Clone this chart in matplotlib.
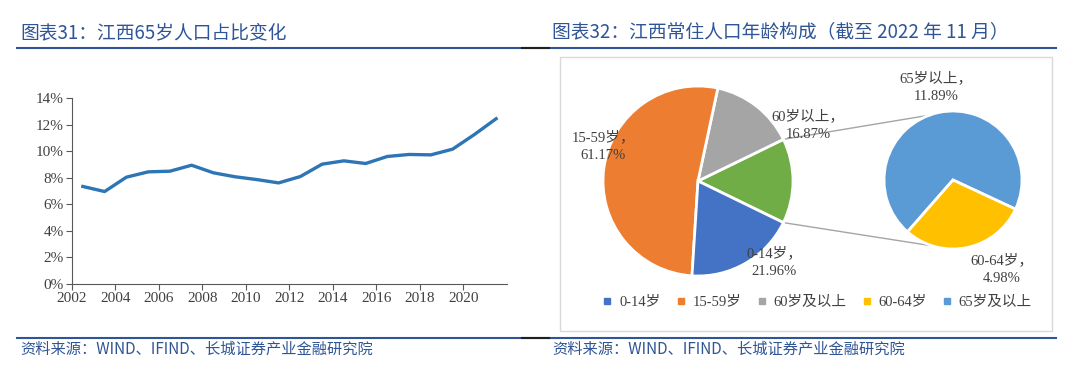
import numpy as np
import matplotlib
matplotlib.use("Agg")
import matplotlib.pyplot as plt
from matplotlib.lines import Line2D
from matplotlib.patches import Rectangle

# ---- data ----
years = list(range(2002, 2022))
share_65 = [7.34, 6.96, 8.04, 8.44, 8.49, 8.94, 8.37, 8.07, 7.86, 7.61,
            8.09, 9.02, 9.27, 9.07, 9.60, 9.75, 9.72, 10.15, 11.25, 12.44]
x_ticks = list(range(2002, 2022, 2))
y_ticks = [0, 2, 4, 6, 8, 10, 12, 14]

age_groups = ["0-14岁", "15-59岁", "60岁及以上", "60-64岁", "65岁及以上"]
age_share = [21.96, 61.17, 16.87, 4.98, 11.89]
age_colors = ["#4472C4", "#ED7D31", "#A5A5A5", "#FFC000", "#5B9BD5"]
other_color = "#70AD47"

BLUE = "#2F5597"
TXT = "#404040"
SERIF = ["Liberation Serif", "Noto Sans CJK SC"]
CJK = ["Noto Sans CJK SC", "DejaVu Sans"]

W, H = 1080, 384
fig = plt.figure(figsize=(W / 100, H / 100), dpi=100, facecolor="white")

# ---- left: line chart ----
ax = fig.add_axes([72 / W, 1 - 284 / H, (507 - 72) / W, (284 - 98) / H])
ax.plot([y + 0.5 for y in years], share_65, color="#2E75B6", lw=2.4,
        solid_joinstyle="round")
ax.set_xlim(2002, 2022)
ax.set_ylim(0, 14)
ax.set_xticks(x_ticks)
ax.set_xticklabels([str(t) for t in x_ticks], family=SERIF, fontsize=11, color=TXT)
ax.set_yticks(y_ticks)
ax.set_yticklabels([f"{t}%" for t in y_ticks], family=SERIF, fontsize=11, color=TXT)
for s in ("top", "right"):
    ax.spines[s].set_visible(False)
for s in ("left", "bottom"):
    ax.spines[s].set_color("#595959")
    ax.spines[s].set_linewidth(0.8)
ax.tick_params(axis="x", length=4, color="#595959", pad=2)
ax.tick_params(axis="y", length=4, color="#595959", pad=2)

# ---- overlay in pixel coordinates ----
ov = fig.add_axes([0, 0, 1, 1], zorder=-1)
ov.set_xlim(0, W)
ov.set_ylim(0, H)
ov.axis("off")

def py(y):
    return H - y

# headers and rules
ov.plot([17, 1056], [py(48), py(48)], color=BLUE, lw=1.5)
ov.plot([522, 549], [py(48), py(48)], color="#202020", lw=1.5)
ov.plot([17, 1056], [py(338), py(338)], color=BLUE, lw=1.5)
ov.plot([522, 549], [py(338), py(338)], color="#202020", lw=1.5)
ov.text(20, py(33), "图表31：江西65岁人口占比变化", family=CJK, fontsize=13.5,
        color=BLUE, va="center", ha="left")
ov.text(552, py(33), "图表32：江西常住人口年龄构成（截至 2022 年 11 月）", family=CJK,
        fontsize=13.5, color=BLUE, va="center", ha="left")
src = "资料来源：WIND、IFIND、长城证券产业金融研究院"
ov.text(20, py(349), src, family=CJK, fontsize=11, color=BLUE, va="center", ha="left")
ov.text(552, py(349), src, family=CJK, fontsize=11, color=BLUE, va="center", ha="left")
ov.add_patch(Rectangle((560, py(331)), 492, 331 - 57, fill=False,
                       edgecolor="#D9D9D9", lw=1))

# ---- right: pie of pie ----
pa = fig.add_axes([0, 0, 1, 1])
pa.set_xlim(0, W)
pa.set_ylim(0, H)
pa.axis("off")

other = age_share[3] + age_share[4]
main_vals = [other, age_share[2], age_share[1], age_share[0]]
main_cols = [other_color, age_colors[2], age_colors[1], age_colors[0]]
c1, r1 = (698, py(181)), 95
other_deg = other / sum(main_vals) * 360
w1, _ = pa.pie(main_vals, colors=main_cols, center=c1, radius=r1,
               startangle=-other_deg / 2, counterclock=True,
               wedgeprops=dict(edgecolor="white", linewidth=2))

c2, r2 = (953, py(180)), 69
sec_vals = [age_share[4], age_share[3]]
w2, _ = pa.pie(sec_vals, colors=[age_colors[4], age_colors[3]], center=c2, radius=r2,
               startangle=-25, counterclock=True,
               wedgeprops=dict(edgecolor="white", linewidth=2))
pa.set_xlim(0, W)
pa.set_ylim(0, H)
pa.set_aspect("equal")

# connector lines
g = w1[0]
for ang1, ang2 in ((g.theta2, 110), (g.theta1, -107)):
    p1 = (c1[0] + r1 * np.cos(np.radians(ang1)), c1[1] + r1 * np.sin(np.radians(ang1)))
    p2 = (c2[0] + r2 * np.cos(np.radians(ang2)), c2[1] + r2 * np.sin(np.radians(ang2)))
    pa.plot([p1[0], p2[0]], [p1[1], p2[1]], color="#A5A5A5", lw=1, zorder=0.5)

lab_kw = dict(family=SERIF, fontsize=10.5, color=TXT, ha="center", va="center",
              linespacing=1.5)
pa.text(603, py(146), f"15-59岁，\n{age_share[1]:.2f}%", **lab_kw)
pa.text(808, py(125), f"60岁以上，\n{age_share[2]:.2f}%", **lab_kw)
pa.text(774, py(262), f"0-14岁，\n{age_share[0]:.2f}%", **lab_kw)
pa.text(936, py(87), f"65岁以上，\n{age_share[4]:.2f}%", **lab_kw)
pa.text(1002, py(269), f"60-64岁，\n{age_share[3]:.2f}%", **lab_kw)

handles = [Line2D([], [], marker="s", ls="none", markersize=4, color=c)
           for c in age_colors]
fig.legend(handles, age_groups, loc="center", bbox_to_anchor=(816 / W, 1 - 302 / H),
           ncol=5, frameon=False, prop=dict(family=SERIF, size=10.5),
           labelcolor=TXT, handletextpad=0.3, columnspacing=0.9, handlelength=1)

fig.savefig("out.png", dpi=100, facecolor="white")
